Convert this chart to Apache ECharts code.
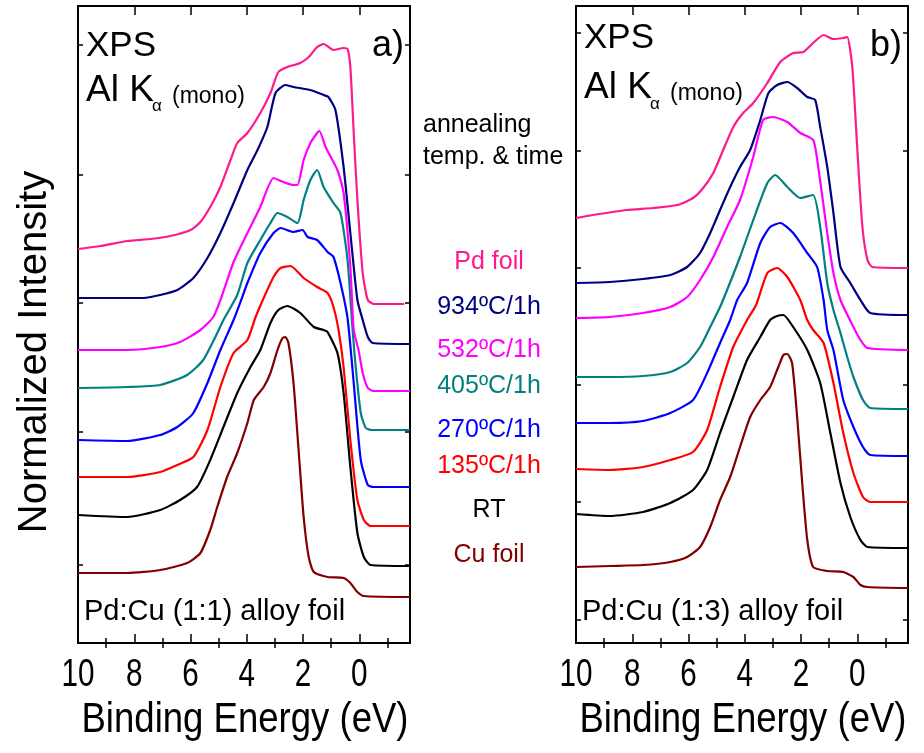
<!DOCTYPE html>
<html>
<head>
<meta charset="utf-8">
<script src="https://cdn.jsdelivr.net/npm/echarts@6/dist/echarts.min.js"></script>
<style>
  html, body { margin: 0; padding: 0; background: #ffffff; }
  #chart { width: 924px; height: 753px; }
</style>
</head>
<body>
<div id="chart"></div>
<script>
// ---- Binding energy axis (eV), drawn from high to low ----
const energyMin = -1.8;
const energyMax = 10;
const energyLabels = [10, 8, 6, 4, 2, 0];
const energyMajorTicks = [10, 8, 6, 4, 2, 0];
const energyMinorTicks = [9, 7, 5, 3, 1, -1];

// ---- Intensity axis (arb. units, spectra stacked with offsets) ----
const intensityMin = 0;
const intensityMax = 6.37;
const intensityTicksA = [0.78, 2.11, 3.40, 4.68, 5.98];
const intensityTicksB = [0.23, 1.41, 2.58, 3.75, 4.92, 6.10];

// ---- Sample names and colours ----
const sampleNames = ['Pd foil', '934ºC/1h', '532ºC/1h', '405ºC/1h', '270ºC/1h', '135ºC/1h', 'RT', 'Cu foil'];
const sampleColors = ['#ff1a8c', '#000080', '#ff00ff', '#008080', '#0000ff', '#ff0000', '#000000', '#800000'];

// ---- Panel a) Pd:Cu (1:1) valence-band spectra: [binding energy, intensity] ----
const pdFoilA = [[10,3.94],[9.2,3.97],[8.25,4.02],[7.43,4.04],[6.72,4.07],[6.0,4.13],[5.65,4.21],[5.3,4.36],[4.94,4.56],[4.58,4.83],[4.34,5.00],[3.98,5.10],[3.52,5.30],[3.16,5.50],[2.88,5.71],[2.56,5.76],[2.1,5.80],[1.8,5.86],[1.5,5.96],[1.27,5.99],[0.92,5.93],[0.56,5.95],[0.42,5.94],[0.32,5.76],[0.2,5.10],[0.07,4.43],[-0.12,3.70],[-0.3,3.43],[-0.52,3.39],[-1.6,3.39]];
const t934A = [[10,3.45],[8.86,3.45],[7.68,3.45],[7.08,3.48],[6.47,3.53],[5.9,3.65],[5.4,3.85],[4.94,4.10],[4.47,4.40],[3.98,4.73],[3.62,4.93],[3.27,5.16],[2.98,5.50],[2.63,5.58],[2.34,5.56],[1.74,5.53],[1.27,5.48],[1.1,5.46],[0.85,5.33],[0.56,4.76],[0.32,4.10],[0.07,3.43],[-0.12,3.23],[-0.3,3.06],[-0.47,3.00],[-1.8,2.99]];
const t532A = [[10,2.93],[8.25,2.93],[7.08,2.96],[6.37,3.01],[5.65,3.13],[5.19,3.26],[4.9,3.46],[4.47,3.81],[3.98,4.10],[3.52,4.36],[3.05,4.65],[2.7,4.61],[2.34,4.58],[2.2,4.58],[1.98,4.83],[1.74,5.00],[1.5,5.10],[1.42,5.12],[1.2,4.96],[0.78,4.73],[0.56,4.50],[0.32,3.76],[0.2,3.13],[0.03,2.93],[-0.12,2.70],[-0.3,2.55],[-0.5,2.52],[-1.8,2.52]];
const t405A = [[10,2.55],[8.25,2.56],[7.08,2.58],[6.12,2.68],[5.55,2.83],[5.05,3.10],[4.83,3.23],[4.34,3.48],[3.98,3.80],[3.52,4.03],[3.16,4.20],[2.91,4.30],[2.56,4.26],[2.2,4.20],[1.98,4.43],[1.74,4.63],[1.5,4.73],[1.27,4.56],[0.92,4.40],[0.67,4.30],[0.42,3.83],[0.24,3.13],[0.13,2.76],[-0.05,2.30],[-0.23,2.15],[-0.45,2.13],[-1.8,2.13]];
const t270A = [[10,2.03],[8.25,2.02],[7.08,2.08],[6.47,2.16],[5.9,2.30],[5.4,2.60],[4.94,2.93],[4.47,3.23],[4.2,3.43],[3.98,3.60],[3.52,3.90],[3.05,4.10],[2.8,4.15],[2.34,4.11],[2.02,4.13],[1.84,4.06],[1.5,4.03],[1.13,3.91],[0.92,3.86],[0.67,3.60],[0.42,3.25],[0.2,2.60],[-0.05,1.83],[-0.3,1.58],[-0.5,1.56],[-1.8,1.56]];
const t135A = [[10,1.66],[8.25,1.66],[7.08,1.71],[6.47,1.78],[5.9,1.86],[5.4,2.13],[4.94,2.56],[4.47,2.90],[3.98,3.03],[3.7,3.25],[3.4,3.45],[3.05,3.66],[2.8,3.75],[2.45,3.77],[1.98,3.65],[1.5,3.56],[1.13,3.50],[0.92,3.36],[0.74,3.13],[0.56,2.76],[0.32,2.03],[0.07,1.43],[-0.16,1.23],[-0.4,1.17],[-1.8,1.17]];
const roomTempA = [[10,1.28],[8.25,1.26],[7.08,1.33],[6.37,1.43],[5.77,1.56],[5.3,1.83],[4.83,2.16],[4.34,2.50],[3.87,2.76],[3.52,2.93],[3.16,3.20],[2.88,3.33],[2.56,3.37],[2.1,3.30],[1.62,3.16],[1.27,3.13],[1.13,3.11],[0.78,2.90],[0.56,2.50],[0.32,1.76],[0.07,1.10],[-0.16,0.86],[-0.4,0.78],[-1.8,0.77]];
const cuFoilA = [[10,0.70],[8.25,0.70],[7.08,0.73],[6.12,0.80],[5.65,0.90],[5.3,1.13],[5.05,1.36],[4.7,1.66],[4.34,1.90],[3.98,2.20],[3.75,2.43],[3.4,2.56],[3.16,2.70],[2.91,2.93],[2.73,3.05],[2.63,3.06],[2.52,3.00],[2.34,2.60],[2.16,1.93],[1.98,1.26],[1.8,0.86],[1.62,0.71],[1.13,0.66],[0.56,0.65],[0.32,0.60],[0.07,0.51],[-0.16,0.47],[-1.8,0.46]];

// ---- Panel b) Pd:Cu (1:3) valence-band spectra ----
const pdFoilB = [[10,4.25],[9.4,4.28],[8.19,4.33],[7.26,4.35],[6.4,4.38],[5.84,4.45],[5.48,4.55],[5.12,4.70],[4.77,4.93],[4.41,5.16],[4.06,5.30],[3.7,5.40],[3.2,5.60],[2.74,5.81],[2.28,5.90],[1.92,5.91],[1.57,6.00],[1.2,6.08],[0.85,6.04],[0.5,6.05],[0.36,6.06],[0.18,5.76],[0,4.93],[-0.18,4.16],[-0.36,3.83],[-0.53,3.76],[-1.8,3.75]];
const t934B = [[10,3.60],[8.8,3.61],[7.62,3.64],[6.65,3.68],[6.05,3.76],[5.59,3.90],[5.23,4.10],[4.88,4.33],[4.52,4.56],[4.17,4.76],[3.81,4.93],[3.45,5.23],[3.16,5.50],[2.85,5.58],[2.49,5.61],[2.14,5.55],[1.78,5.46],[1.5,5.43],[1.32,5.16],[1.07,4.76],[0.85,4.30],[0.6,3.76],[0.25,3.60],[-0.11,3.43],[-0.46,3.30],[-1.8,3.28]];
const t532B = [[10,3.25],[8.8,3.26],[7.62,3.30],[6.65,3.36],[6.05,3.46],[5.59,3.63],[5.12,3.86],[4.63,4.16],[4.17,4.43],[3.7,4.86],[3.35,5.23],[2.99,5.26],[2.49,5.21],[2.03,5.10],[1.57,5.03],[1.39,4.76],[1.07,4.10],[0.85,3.70],[0.6,3.43],[0.14,3.16],[-0.11,3.03],[-0.36,2.95],[-1.8,2.93]];
const t405B = [[10,2.66],[8.8,2.66],[7.62,2.67],[6.65,2.71],[6.05,2.80],[5.59,2.96],[5.23,3.16],[4.88,3.36],[4.63,3.53],[4.17,3.86],[3.7,4.23],[3.2,4.60],[2.92,4.68],[2.49,4.56],[2.03,4.45],[1.57,4.48],[1.32,4.16],[1.07,3.60],[0.85,3.33],[0.6,3.10],[0.36,2.86],[0.14,2.66],[-0.2,2.43],[-0.46,2.35],[-1.8,2.34]];
const t270B = [[10,2.20],[8.8,2.20],[7.62,2.22],[6.65,2.30],[5.84,2.43],[5.34,2.70],[4.88,3.00],[4.52,3.23],[4.27,3.43],[3.92,3.60],[3.45,4.00],[3.1,4.16],[2.74,4.20],[2.28,4.10],[1.78,3.90],[1.43,3.76],[1.2,3.43],[1.07,3.13],[0.85,2.93],[0.5,2.43],[0.14,2.16],[-0.2,1.96],[-0.46,1.88],[-1.8,1.87]];
const t135B = [[10,1.74],[8.8,1.73],[7.62,1.76],[6.65,1.83],[5.84,1.91],[5.34,2.13],[4.88,2.56],[4.41,2.96],[3.92,3.23],[3.6,3.38],[3.2,3.70],[2.85,3.75],[2.49,3.66],[2.03,3.43],[1.78,3.23],[1.57,3.13],[1.2,3.00],[0.85,2.60],[0.5,2.10],[0.14,1.70],[-0.2,1.46],[-0.46,1.41],[-1.8,1.41]];
const roomTempB = [[10,1.29],[8.8,1.27],[7.62,1.31],[6.65,1.40],[5.84,1.53],[5.34,1.73],[4.88,2.10],[4.41,2.46],[3.92,2.83],[3.45,3.06],[3.1,3.23],[2.85,3.27],[2.63,3.28],[2.28,3.16],[1.78,2.93],[1.32,2.60],[0.96,2.10],[0.6,1.60],[0.25,1.26],[-0.11,1.03],[-0.36,0.96],[-1.8,0.95]];
const cuFoilB = [[10,0.76],[8.8,0.77],[7.62,0.78],[6.65,0.81],[6.05,0.86],[5.59,0.96],[5.23,1.16],[4.88,1.43],[4.52,1.66],[4.17,1.96],[3.81,2.26],[3.45,2.43],[3.1,2.56],[2.81,2.76],[2.63,2.88],[2.49,2.89],[2.32,2.80],[2.14,2.26],[1.96,1.60],[1.78,1.03],[1.57,0.76],[1.07,0.72],[0.5,0.71],[0.14,0.66],[-0.11,0.58],[-0.36,0.56],[-1.8,0.55]];

const panelA = [pdFoilA, t934A, t532A, t405A, t270A, t135A, roomTempA, cuFoilA];
const panelB = [pdFoilB, t934B, t532B, t405B, t270B, t135B, roomTempB, cuFoilB];

// ---- Layout ----
const FONT = '"Liberation Sans", Arial, Helvetica, sans-serif';
const grids = [
  { left: 78, top: 6, width: 332, height: 637 },
  { left: 576, top: 6, width: 332, height: 637 }
];

const frameLine = { show: true, onZero: false, lineStyle: { color: '#000', width: 2 } };

function energyAxis(gridIndex, position, ticks, tickLen, withLine) {
  return {
    type: 'value', gridIndex, position, inverse: true,
    min: energyMin, max: energyMax,
    axisLine: withLine ? frameLine : { show: false },
    axisTick: { show: true, inside: true, length: tickLen, customValues: ticks,
                lineStyle: { color: '#000', width: 1.5 } },
    axisLabel: { show: false },
    splitLine: { show: false }
  };
}

function intensityAxis(gridIndex, position, ticks) {
  return {
    type: 'value', gridIndex, position,
    min: intensityMin, max: intensityMax,
    axisLine: frameLine,
    axisTick: { show: true, inside: true, length: 5, customValues: ticks,
                lineStyle: { color: '#000', width: 1.5 } },
    axisLabel: { show: false },
    splitLine: { show: false }
  };
}

const xAxes = [];
const yAxes = [];
[0, 1].forEach(g => {
  xAxes.push(energyAxis(g, 'bottom', energyMajorTicks, 9, true));
  xAxes.push(energyAxis(g, 'bottom', energyMinorTicks, 5, false));
  xAxes.push(energyAxis(g, 'top', energyMajorTicks, 9, true));
  xAxes.push(energyAxis(g, 'top', energyMinorTicks, 5, false));
  const yt = g === 0 ? intensityTicksA : intensityTicksB;
  yAxes.push(intensityAxis(g, 'left', yt));
  yAxes.push(intensityAxis(g, 'right', yt));
});

const series = [];
[panelA, panelB].forEach((panel, g) => {
  panel.forEach((data, i) => {
    series.push({
      type: 'line', name: sampleNames[i],
      xAxisIndex: g * 4, yAxisIndex: g * 2,
      data, showSymbol: false, symbol: 'none',
      smooth: 0.2,
      lineStyle: { color: sampleColors[i], width: 2.2 },
      z: 10 - i
    });
  });
});

function txt(x, y, text, size, opts) {
  opts = opts || {};
  return {
    type: 'text', x, y, rotation: opts.rotation || 0, z: 100,
    scaleX: opts.scaleX || 1,
    style: {
      text, fontSize: size, fontFamily: FONT,
      fill: opts.color || '#000',
      align: opts.align || 'left', verticalAlign: 'middle'
    }
  };
}

const chart = echarts.init(document.getElementById('chart'), null, { renderer: 'canvas' });
chart.setOption({
  animation: false,
  backgroundColor: '#ffffff',
  grid: grids,
  xAxis: xAxes,
  yAxis: yAxes,
  series
});

const legendY = [262, 307, 350, 386, 430, 466, 510, 555];

const graphics = [
  // panel a annotations
  txt(86, 46, 'XPS', 35),
  txt(86, 91, 'Al K', 37),
  txt(152, 106, 'α', 17),
  txt(172, 97, '(mono)', 23),
  txt(404, 46, 'a)', 36, { align: 'right' }),
  txt(84, 612, 'Pd:Cu (1:1) alloy foil', 29),
  // panel b annotations
  txt(584, 38, 'XPS', 35),
  txt(584, 88, 'Al K', 37),
  txt(650, 104, 'α', 17),
  txt(670, 94, '(mono)', 23),
  txt(902, 46, 'b)', 36, { align: 'right' }),
  txt(582, 612, 'Pd:Cu (1:3) alloy foil', 29),
  // middle legend heading
  txt(423, 125, 'annealing', 25),
  txt(423, 157, 'temp. & time', 25),
  // axis titles
  txt(35, 352, 'Normalized Intensity', 40, { align: 'center', rotation: Math.PI / 2 }),
  txt(245, 720, 'Binding Energy (eV)', 42, { align: 'center', scaleX: 0.87 }),
  txt(743, 720, 'Binding Energy (eV)', 42, { align: 'center', scaleX: 0.87 })
];
sampleNames.forEach((n, i) => {
  graphics.push(txt(489, legendY[i], n, 25, { align: 'center', color: sampleColors[i] }));
});
// condensed energy tick labels, placed through each panel's energy axis
[0, 4].forEach(axisIdx => {
  energyLabels.forEach(v => {
    const px = chart.convertToPixel({ xAxisIndex: axisIdx }, v);
    graphics.push(txt(px, 676, String(v), 38, { align: 'center', scaleX: 0.78 }));
  });
});

chart.setOption({ graphic: graphics });
</script>
</body>
</html>
